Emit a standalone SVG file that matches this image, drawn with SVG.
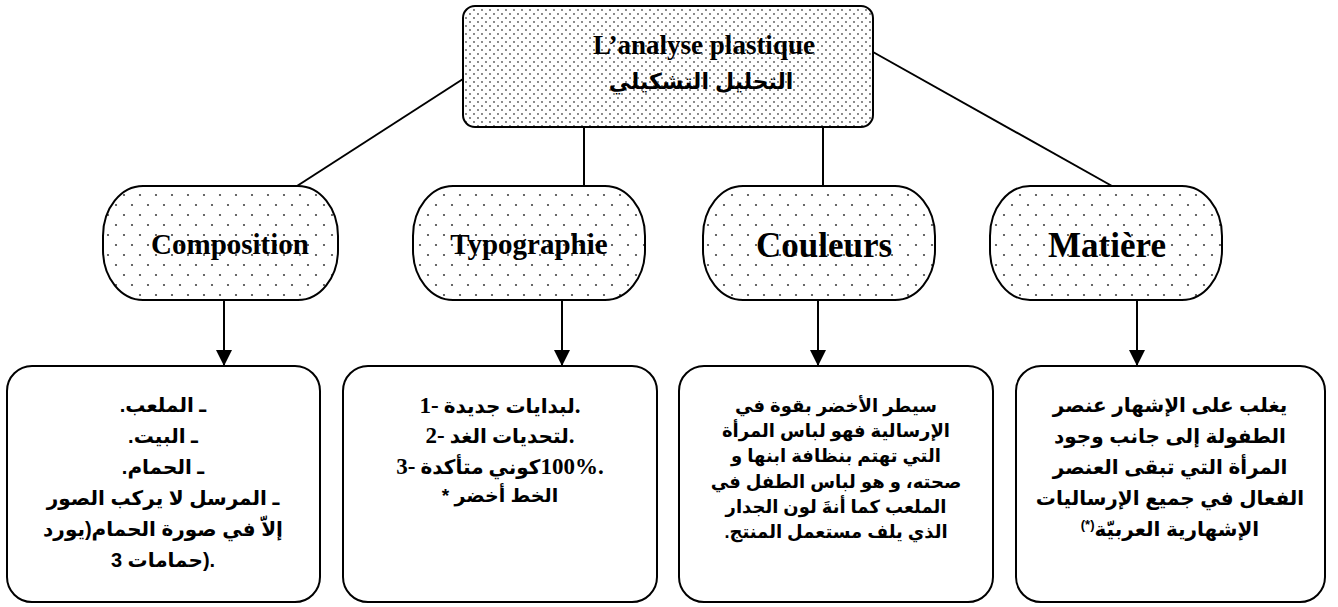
<svg xmlns="http://www.w3.org/2000/svg" width="1338" height="607" viewBox="0 0 1338 607">
<defs>
<pattern id="dotsTop" width="8" height="8" patternUnits="userSpaceOnUse">
<rect width="8" height="8" fill="#fff"/>
<circle cx="2" cy="2" r="0.9" fill="#555"/>
<circle cx="6" cy="6" r="0.9" fill="#555"/>
</pattern>
<pattern id="dotsPill" width="16" height="20" patternUnits="userSpaceOnUse">
<rect width="16" height="20" fill="#fff"/>
<circle cx="4" cy="5" r="1.1" fill="#444"/>
<circle cx="12" cy="15" r="1.1" fill="#444"/>
</pattern>
<marker id="arrow" markerUnits="userSpaceOnUse" markerWidth="16" markerHeight="16" refX="16" refY="8" orient="auto">
<path d="M0,0 L16,8 L0,16 Z" fill="#000"/>
</marker>
</defs>
<style>
.box{fill:#fff;stroke:#000;stroke-width:2}
.pill{fill:url(#dotsPill);stroke:#000;stroke-width:2}
.top{fill:url(#dotsTop);stroke:#000;stroke-width:2}
.conn{stroke:#000;stroke-width:2;fill:none}
.lat{font-family:"Liberation Serif","Times New Roman",serif;font-weight:bold;fill:#000;text-anchor:middle}
.ar{font-family:"Liberation Sans","DejaVu Sans",sans-serif;font-weight:bold;fill:#000;text-anchor:middle;font-size:20px}
.ars{font-family:"Liberation Sans","DejaVu Sans",sans-serif;font-weight:bold;fill:#000;text-anchor:middle;font-size:18px}
.art{font-family:"Liberation Serif","DejaVu Sans",serif;font-weight:bold;fill:#000;text-anchor:middle;font-size:20px}
.num{font-size:23px}
</style>

<g id="connectors">
<line class="conn" x1="463" y1="79" x2="297" y2="186"/>
<line class="conn" x1="584" y1="127" x2="584" y2="186"/>
<line class="conn" x1="823" y1="127" x2="823" y2="186"/>
<line class="conn" x1="873" y1="52" x2="1112" y2="186"/>
<line class="conn" x1="224" y1="300" x2="224" y2="366" marker-end="url(#arrow)"/>
<line class="conn" x1="562" y1="300" x2="562" y2="366" marker-end="url(#arrow)"/>
<line class="conn" x1="818" y1="300" x2="818" y2="366" marker-end="url(#arrow)"/>
<line class="conn" x1="1137" y1="300" x2="1137" y2="366" marker-end="url(#arrow)"/>
</g>

<g id="root">
<rect class="top" x="463" y="6" width="410" height="121" rx="12"/>
<text class="lat" x="704" y="54" font-size="27">L’analyse plastique</text>
<text class="ar" x="701" y="89" direction="rtl" style="font-size:22px">التحليل التشكيلي</text>
</g>

<g id="composition">
<rect class="pill" x="103" y="186" width="235" height="114" rx="40" ry="50"/>
<text class="lat" x="230" y="254" font-size="29">Composition</text>
</g>
<g id="typographie">
<rect class="pill" x="413" y="186" width="232" height="114" rx="40" ry="50"/>
<text class="lat" x="529" y="254" font-size="29">Typographie</text>
</g>
<g id="couleurs">
<rect class="pill" x="703" y="186" width="232" height="114" rx="40" ry="50"/>
<text class="lat" x="824" y="257" font-size="35">Couleurs</text>
</g>
<g id="matiere">
<rect class="pill" x="990" y="186" width="232" height="114" rx="40" ry="50"/>
<text class="lat" x="1107" y="257" font-size="35">Matière</text>
</g>

<g id="box-composition">
<rect class="box" x="7" y="366" width="313" height="236" rx="25"/>
<text class="ar" x="163" y="412" direction="rtl">ـ الملعب.</text>
<text class="ar" x="163" y="443" direction="rtl">ـ البيت.</text>
<text class="ar" x="163" y="474" direction="rtl">ـ الحمام.</text>
<text class="ar" x="163" y="505" direction="rtl">ـ المرسل لا يركب الصور</text>
<text class="ar" x="163" y="536" direction="rtl">إلاّ في صورة الحمام(يورد</text>
<text class="ar" x="163" y="567" direction="ltr">3 حمامات).</text>
</g>

<g id="box-typographie">
<rect class="box" x="343" y="366" width="314" height="236" rx="25"/>
<text class="art" x="500" y="413" direction="ltr"><tspan class="num">1-</tspan> لبدايات جديدة<tspan class="num">.</tspan></text>
<text class="art" x="500" y="443" direction="ltr"><tspan class="num">2-</tspan> لتحديات الغد<tspan class="num">.</tspan></text>
<text class="art" x="500" y="474" direction="ltr"><tspan class="num">3-</tspan> كوني متأكدة&#8206;<tspan class="num">100%.</tspan></text>
<text class="ar" x="500" y="502" direction="ltr" style="font-size:19px">* الخط أخضر</text>
</g>

<g id="box-couleurs">
<rect class="box" x="679" y="366" width="314" height="236" rx="25"/>
<text class="ars" x="836" y="412" direction="rtl">سيطر الأخضر بقوة في</text>
<text class="ars" x="836" y="437" direction="rtl">الإرسالية فهو لباس المرأة</text>
<text class="ars" x="836" y="462" direction="rtl">التي تهتم بنظافة ابنها و</text>
<text class="ars" x="836" y="488" direction="rtl">صحته، و هو لباس الطفل في</text>
<text class="ars" x="836" y="513" direction="rtl">الملعب كما أنةَ لون الجدار</text>
<text class="ars" x="836" y="538" direction="rtl">الذي يلف مستعمل المنتج.</text>
</g>

<g id="box-matiere">
<rect class="box" x="1016" y="366" width="309" height="236" rx="25"/>
<text class="ar" x="1170" y="412" direction="rtl">يغلب على الإشهار عنصر</text>
<text class="ar" x="1170" y="443" direction="rtl">الطفولة إلى جانب وجود</text>
<text class="ar" x="1170" y="474" direction="rtl">المرأة التي تبقى العنصر</text>
<text class="ar" x="1170" y="505" direction="rtl">الفعال في جميع الإرساليات</text>
<text class="ar" x="1170" y="536" direction="rtl">الإشهارية العربيّة<tspan font-size="13" dy="-7">(*)</tspan></text>
</g>
</svg>
